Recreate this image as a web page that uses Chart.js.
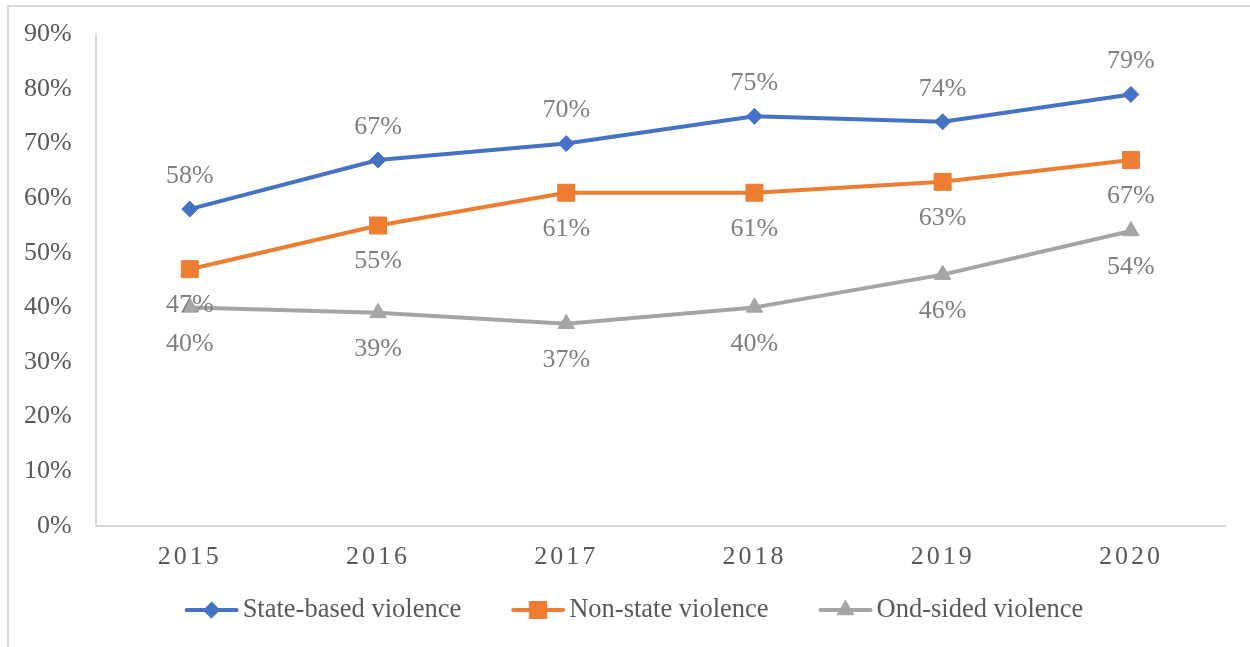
<!DOCTYPE html>
<html>
<head>
<meta charset="utf-8">
<script src="https://cdn.jsdelivr.net/npm/chart.js@4/dist/chart.umd.min.js"></script>
<style>
  html, body { margin: 0; padding: 0; background: #ffffff; overflow: hidden; }
  #frame {
    position: absolute; left: 7px; top: 5px; width: 1400px; height: 800px;
    border: 2px solid #d9d9d9; box-sizing: border-box;
  }
  #chart { position: absolute; left: 0; top: 0; }
</style>
</head>
<body>
<div id="frame"></div>
<canvas id="chart" width="1250" height="647"></canvas>
<script>
// Share of conflicts by type of violence, 2015-2020
const years = ['2015', '2016', '2017', '2018', '2019', '2020'];
const stateBased = [58, 67, 70, 75, 74, 79];
const nonState = [47, 55, 61, 61, 63, 67];
const oneSided = [40, 39, 37, 40, 46, 54];
const yTicks = [0, 10, 20, 30, 40, 50, 60, 70, 80, 90];
const seriesNames = ['State-based violence', 'Non-state violence', 'Ond-sided violence'];

const FONT = "'Liberation Serif', 'Times New Roman', serif";
const TEXT = '#595959';
const LABEL_TEXT = '#7f7f7f';
const AXIS = '#d9d9d9';

function series(label, data, color, style, radius) {
  return {
    label, data,
    borderColor: color,
    backgroundColor: color,
    borderWidth: 4,
    borderCapStyle: 'round',
    borderJoinStyle: 'round',
    tension: 0,
    pointStyle: style,
    pointRadius: radius,
    pointHoverRadius: radius,
    pointBackgroundColor: color,
    pointBorderColor: color,
    pointBorderWidth: 1
  };
}

// value labels above / below each point
const valueLabels = {
  id: 'valueLabels',
  afterDatasetsDraw(chart, args, opts) {
    const ctx = chart.ctx;
    ctx.save();
    ctx.font = `${opts.size}px ${FONT}`;
    ctx.fillStyle = opts.color;
    ctx.textAlign = 'center';
    ctx.textBaseline = 'middle';
    chart.data.datasets.forEach((ds, i) => {
      const meta = chart.getDatasetMeta(i);
      const off = opts.offsets[i];
      meta.data.forEach((pt, j) => {
        ctx.fillText(ds.data[j] + '%', pt.x, pt.y + off);
      });
    });
    ctx.restore();
  }
};

// legend with a short line segment and the series marker
const lineLegend = {
  id: 'lineLegend',
  afterDraw(chart, args, opts) {
    const ctx = chart.ctx;
    ctx.save();
    ctx.font = `${opts.size}px ${FONT}`;
    const items = chart.data.datasets.map(ds => ({ ds, w: ctx.measureText(ds.label).width }));
    const total = items.reduce((s, it) => s + opts.lineLen + opts.textGap + it.w, 0)
      + opts.itemGap * (items.length - 1);
    let x = opts.centerX - total / 2;
    const y = opts.y;
    items.forEach(({ ds, w }) => {
      ctx.strokeStyle = ds.borderColor;
      ctx.lineWidth = ds.borderWidth;
      ctx.lineCap = 'round';
      ctx.beginPath();
      ctx.moveTo(x + 2, y);
      ctx.lineTo(x + opts.lineLen - 2, y);
      ctx.stroke();
      ctx.fillStyle = ds.pointBackgroundColor;
      ctx.strokeStyle = ds.pointBorderColor;
      ctx.lineWidth = ds.pointBorderWidth;
      Chart.helpers.drawPoint(ctx, {
        pointStyle: ds.pointStyle, radius: ds.pointRadius,
        borderWidth: ds.pointBorderWidth, rotation: 0
      }, x + opts.lineLen / 2, y);
      ctx.fillStyle = opts.color;
      ctx.textAlign = 'left';
      ctx.textBaseline = 'middle';
      ctx.fillText(ds.label, x + opts.lineLen + opts.textGap, y);
      x += opts.lineLen + opts.textGap + w + opts.itemGap;
    });
    ctx.restore();
  }
};

// spaced-out year labels on the category axis
function spaceLabels(scale) {
  if (scale._spaced) return;
  const orig = scale.drawLabels;
  scale.drawLabels = function (area) {
    const c = this.ctx;
    c.save();
    c.letterSpacing = '3px';
    orig.call(this, area);
    c.restore();
  };
  scale._spaced = true;
}

new Chart(document.getElementById('chart'), {
  type: 'line',
  data: {
    labels: years,
    datasets: [
      series(seriesNames[0], stateBased, '#4472c4', 'rectRot', 8),
      series(seriesNames[1], nonState, '#ed7d31', 'rect', 12),
      series(seriesNames[2], oneSided, '#a5a5a5', 'triangle', 9.5)
    ]
  },
  options: {
    responsive: false,
    animation: false,
    events: [],
    layout: { padding: { left: 0, right: 25, top: 24, bottom: 58 } },
    scales: {
      x: {
        type: 'category',
        offset: true,
        grid: { display: false, drawTicks: false },
        border: { display: true, color: AXIS, width: 2 },
        ticks: {
          color: TEXT, padding: 16,
          font: { family: FONT, size: 26 },
          maxRotation: 0
        },
        afterFit: spaceLabels
      },
      y: {
        min: 0, max: 90,
        grid: { display: false, drawTicks: false },
        border: { display: true, color: AXIS, width: 2 },
        afterBuildTicks(scale) { scale.ticks = yTicks.map(v => ({ value: v })); },
        ticks: {
          color: TEXT, padding: 24,
          font: { family: FONT, size: 26, lineHeight: 0.8 },
          callback: v => v + '%'
        }
      }
    },
    plugins: {
      legend: { display: false },
      tooltip: { enabled: false },
      valueLabels: { size: 26, color: LABEL_TEXT, offsets: [-33, 36, 36.5] },
      lineLegend: { size: 26.5, color: TEXT, centerX: 634, y: 610, lineLen: 54, textGap: 4, itemGap: 50 }
    }
  },
  plugins: [valueLabels, lineLegend]
});
</script>
</body>
</html>
